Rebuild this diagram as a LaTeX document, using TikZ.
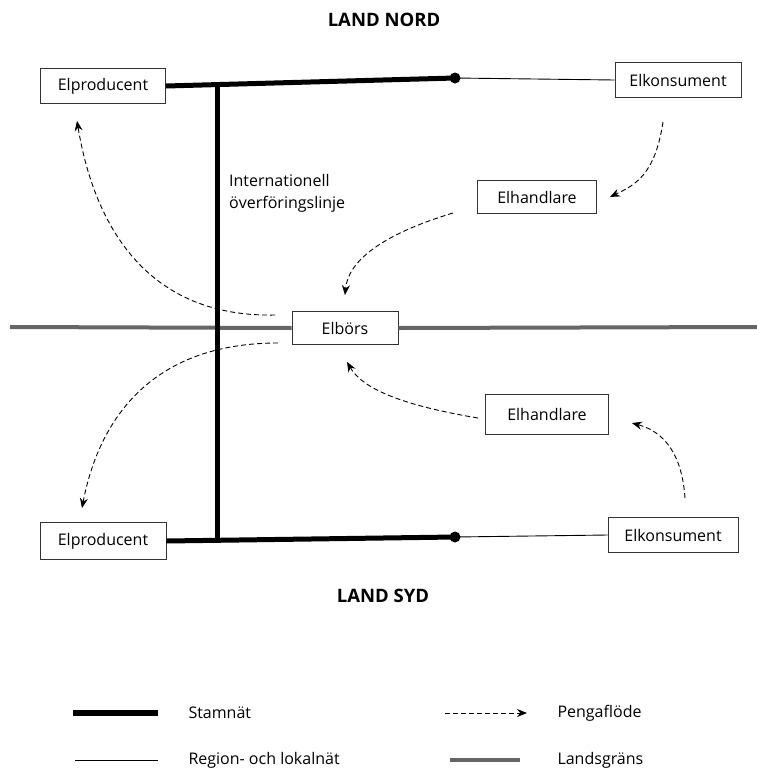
\documentclass[tikz,border=0pt]{standalone}
\usepackage{fontspec}
\setmainfont{Open Sans}
\usetikzlibrary{arrows.meta}
\tikzset{
  ruta/.style = {draw=black!80, fill=white, line width=0.8pt, inner sep=0pt,
    minimum height=35pt, font=\fontsize{16}{18}\selectfont},% ruta for aktor
  stamn/.style = {line width=5pt},% stamnat
  lokal/.style = {line width=0.9pt},% region- och lokalnat
  pengar/.style = {-{Stealth[length=10pt,width=8pt]}, line width=0.9pt,
    dash pattern=on 5pt off 3pt},% pengaflode
  grans/.style = {line width=4pt, draw=black!60},% landsgrans
  rubrik/.style = {font=\bfseries\fontsize{18.5}{20}\selectfont},
  prick/.style = {circle, fill=black, inner sep=0pt, minimum size=11pt},
  text_l/.style = {anchor=west, font=\fontsize{16}{18}\selectfont}
}

\begin{document}
\begin{tikzpicture}[x=1pt, y=-1pt]
\useasboundingbox (0,0) rectangle (757,769);
% landsgrans genom elborsen
\node [ruta, minimum width=106pt, minimum height=33pt] (bors) at (345,328) {Elbörs};
\coordinate (gransV) at (10,327);
\coordinate (gransH) at (757,327);
\draw [grans] (gransV) -- (bors.west);
\draw [grans] (bors.east) -- (gransH);
% aktorer
\node [ruta, minimum width=125pt] (prodN) at (103,86) {Elproducent};
\node [ruta, minimum width=126pt] (konsN) at (678,80) {Elkonsument};
\node [ruta, minimum width=119pt, minimum height=33pt] (handN) at (537,197) {Elhandlare};
\node [ruta, minimum width=123pt, minimum height=40pt] (handS) at (547,414) {Elhandlare};
\node [ruta, minimum width=130pt] (konsS) at (673,535) {Elkonsument};
\node [ruta, minimum width=126pt, minimum height=37pt] (prodS) at (103,541) {Elproducent};
\node [prick] (dotN) at (455,78) {};
\node [prick] (dotS) at (455,537) {};
\node [rubrik] (nord) at (384,20) {LAND NORD};
\node [rubrik] (syd) at (383,596) {LAND SYD};
% natet
\coordinate (korsN) at (217,84.6);
\coordinate (korsS) at (217,540.3);
\draw [stamn] (prodN.east) -- (dotN.center);
\draw [stamn] (prodS.east) -- (dotS.center);
\draw [stamn] (korsN) -- (korsS);
\draw [lokal] (dotN.center) -- (konsN.west);
\draw [lokal] (dotS.center) -- (konsS.west);
\node [anchor=north west, inner sep=0pt, align=left,
  font=\fontsize{16}{22}\selectfont] (linje) at (229,174)
  {Internationell\\överföringslinje};
% pengafloden
\coordinate (p1) at (663,122);
\coordinate (p2) at (453,213);
\coordinate (p3) at (275,315);
\coordinate (p4) at (278,343);
\coordinate (p5) at (478,418);
\coordinate (p6) at (685,498);
\draw [pengar] (p1) .. controls (655,175) and (635,185) .. ([xshift=13pt]handN.east);
\draw [pengar] (p2) .. controls (380,235) and (348,262) .. ([yshift=16pt]bors.north);
\draw [pengar] (p3) .. controls (130,318) and (90,200) .. ([xshift=-26pt,yshift=-17pt]prodN.south);
\draw [pengar] (p4) .. controls (135,343) and (95,440) .. ([xshift=-21pt,yshift=14pt]prodS.north);
\draw [pengar] (p5) .. controls (400,405) and (362,388) .. ([xshift=2pt,yshift=-17pt]bors.south);
\draw [pengar] (p6) .. controls (682,455) and (665,432) .. ([xshift=23pt,yshift=-9pt]handS.east);
% teckenforklaring
\coordinate (l1a) at (73,713);
\coordinate (l1b) at (158,713);
\coordinate (l2a) at (75,760);
\coordinate (l2b) at (158,760);
\coordinate (l3a) at (445,713);
\coordinate (l3b) at (527,713);
\coordinate (l4a) at (450,760);
\coordinate (l4b) at (520,760);
\draw [stamn, line width=6pt] (l1a) -- (l1b);
\draw [lokal] (l2a) -- (l2b);
\draw [pengar] (l3a) -- (l3b);
\draw [grans] (l4a) -- (l4b);
\node [text_l] (stamnat) at (185,713) {Stamnät};
\node [text_l] (lokalnat) at (185,760) {Region- och lokalnät};
\node [text_l] (pengaflode) at (554,713) {Pengaflöde};
\node [text_l] (landsgrans) at (554,760) {Landsgräns};
\end{tikzpicture}
\end{document}
